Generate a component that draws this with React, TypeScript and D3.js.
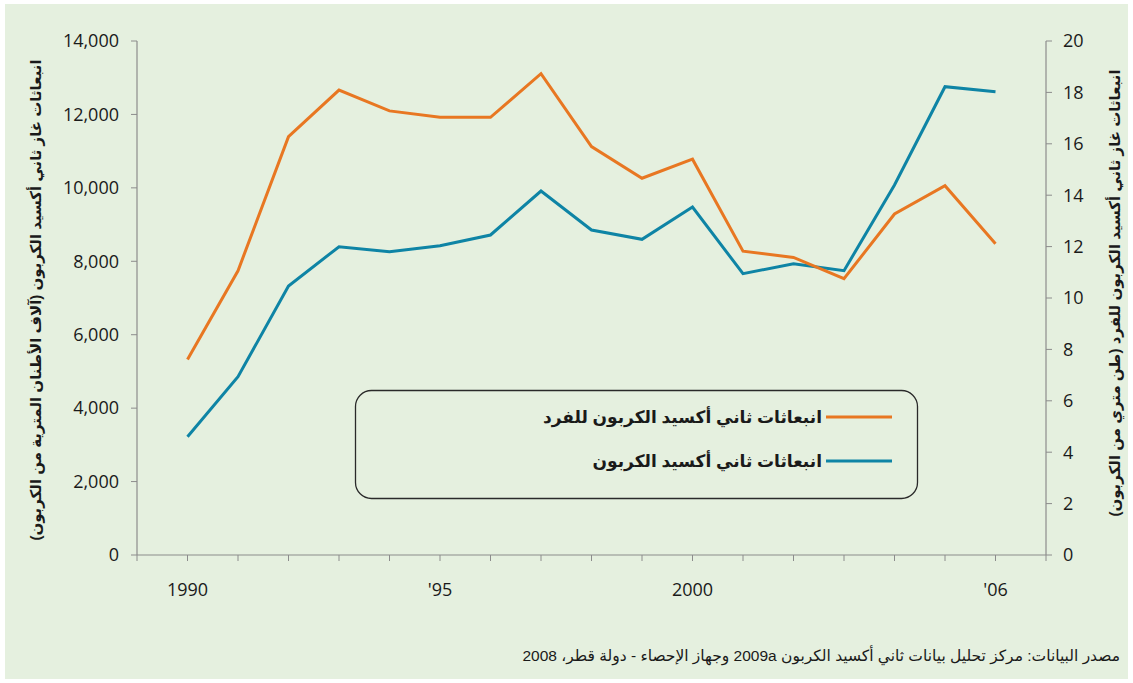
import React from 'react';
import * as d3 from 'd3';

// years shown on the chart
const years = [1990, 1991, 1992, 1993, 1994, 1995, 1996, 1997, 1998, 1999, 2000, 2001, 2002, 2003, 2004, 2005, 2006];

// per-capita CO2 emissions (metric tons of carbon) - right axis
const perCapita = [7.61, 11.06, 16.28, 18.09, 17.28, 17.03, 17.03, 18.73, 15.89, 14.66, 15.4, 11.82, 11.58, 10.75, 13.27, 14.37, 12.11];

// total CO2 emissions (thousand metric tons of carbon) - left axis
const total = [3222, 4856, 7327, 8397, 8261, 8424, 8716, 9914, 8852, 8599, 9478, 7662, 7934, 7743, 10078, 12755, 12619];

const leftTicks = [0, 2000, 4000, 6000, 8000, 10000, 12000, 14000];
const rightTicks = [0, 2, 4, 6, 8, 10, 12, 14, 16, 18, 20];
const xTickYears = d3.range(1989, 2008);
const xLabels = [
  { year: 1990, label: '1990' },
  { year: 1995, label: "'95" },
  { year: 2000, label: '2000' },
  { year: 2006, label: "'06" },
];

const legendItems = [
  { label: 'انبعاثات ثاني أكسيد الكربون للفرد', color: '#E87722' },
  { label: 'انبعاثات ثاني أكسيد الكربون', color: '#0E84A5' },
];

const W = 1133;
const H = 683;
const plot = { left: 137, right: 1046, top: 41, bottom: 555 };

const numFont = '"Open Sans", "Noto Sans", sans-serif';
const arFont = '"Liberation Sans", "DejaVu Sans", sans-serif';
const axisColor = '#8c8c8c';

const App = () => {
  const x = d3.scaleLinear().domain([1989, 2007]).range([plot.left, plot.right]);
  const yLeft = d3.scaleLinear().domain([0, 14000]).range([plot.bottom, plot.top]);
  const yRight = d3.scaleLinear().domain([0, 20]).range([plot.bottom, plot.top]);

  const orangeLine = d3.line<number>()
    .x((_, i) => x(years[i]))
    .y(d => yRight(d));
  const blueLine = d3.line<number>()
    .x((_, i) => x(years[i]))
    .y(d => yLeft(d));

  const fmt = d3.format(',');

  return (
    <div style={{ position: 'absolute', left: 0, top: 0 }}>
      <svg width={W} height={H} style={{ display: 'block' }}>
        <rect x={0} y={0} width={W} height={H} fill="#ffffff" />
        <rect x={5} y={4} width={W - 10} height={H - 8} fill="#E5F0DF" />

        {/* x axis */}
        <line x1={plot.left} x2={plot.right} y1={plot.bottom} y2={plot.bottom} stroke={axisColor} strokeWidth={1.2} />
        {xTickYears.map(yr => (
          <line key={yr} x1={x(yr)} x2={x(yr)} y1={plot.bottom} y2={plot.bottom + 6} stroke={axisColor} strokeWidth={1} />
        ))}
        {xLabels.map(d => (
          <text key={d.year} x={x(d.year)} y={596} textAnchor="middle" fontFamily={numFont} fontSize={18} fill="#1a1a1a">
            {d.label}
          </text>
        ))}

        {/* left axis */}
        <line x1={plot.left} x2={plot.left} y1={plot.top} y2={plot.bottom} stroke={axisColor} strokeWidth={1.2} />
        {leftTicks.map(t => (
          <g key={t}>
            <line x1={plot.left - 6} x2={plot.left} y1={yLeft(t)} y2={yLeft(t)} stroke={axisColor} strokeWidth={1} />
            <text x={119} y={yLeft(t)} dy="0.35em" textAnchor="end" fontFamily={numFont} fontSize={18} fill="#1a1a1a">
              {fmt(t)}
            </text>
          </g>
        ))}

        {/* right axis */}
        <line x1={plot.right} x2={plot.right} y1={plot.top} y2={plot.bottom} stroke={axisColor} strokeWidth={1.2} />
        {rightTicks.map(t => (
          <g key={t}>
            <line x1={plot.right} x2={plot.right + 6} y1={yRight(t)} y2={yRight(t)} stroke={axisColor} strokeWidth={1} />
            <text x={1063} y={yRight(t)} dy="0.35em" textAnchor="start" fontFamily={numFont} fontSize={18} fill="#1a1a1a">
              {t}
            </text>
          </g>
        ))}

        {/* axis titles */}
        <text
          transform={`translate(36, ${(plot.top + plot.bottom) / 2 + 2}) rotate(-90)`}
          textAnchor="middle"
          dy="0.35em"
          direction="rtl"
          fontFamily={arFont}
          fontWeight="bold"
          fontSize={15}
          fill="#1a1a1a"
        >
          انبعاثات غاز ثاني أكسيد الكربون (آلاف الأطنان المترية من الكربون)
        </text>
        <text
          transform={`translate(1115, ${(plot.top + plot.bottom) / 2 - 5}) rotate(-90)`}
          textAnchor="middle"
          dy="0.35em"
          direction="rtl"
          fontFamily={arFont}
          fontWeight="bold"
          fontSize={15}
          fill="#1a1a1a"
        >
          انبعاثات غاز ثاني أكسيد الكربون للفرد (طن متري من الكربون)
        </text>

        {/* series */}
        <path d={blueLine(total) || ''} fill="none" stroke="#0E84A5" strokeWidth={3} strokeLinejoin="miter" />
        <path d={orangeLine(perCapita) || ''} fill="none" stroke="#E87722" strokeWidth={3} strokeLinejoin="miter" />

        {/* legend */}
        <rect x={355.5} y={390.5} width={562} height={108} rx={16} ry={16} fill="none" stroke="#2a2a2a" strokeWidth={1.3} />
        {legendItems.map((d, i) => (
          <g key={d.label} transform={`translate(0, ${417 + i * 44})`}>
            <line x1={826} x2={892} y1={0} y2={0} stroke={d.color} strokeWidth={3} />
            <text x={822} y={0} dy="0.35em" direction="rtl" textAnchor="start" fontFamily={arFont} fontWeight="bold" fontSize={17} fill="#1a1a1a">
              {d.label}
            </text>
          </g>
        ))}

        {/* source */}
        <text x={1120} y={656} dy="0.35em" direction="rtl" textAnchor="start" fontFamily={arFont} fontSize={15.5} fill="#1a1a1a">
          مصدر البيانات: مركز تحليل بيانات ثاني أكسيد الكربون 2009a وجهاز الإحصاء - دولة قطر، 2008
        </text>
      </svg>
    </div>
  );
};

export default App;
